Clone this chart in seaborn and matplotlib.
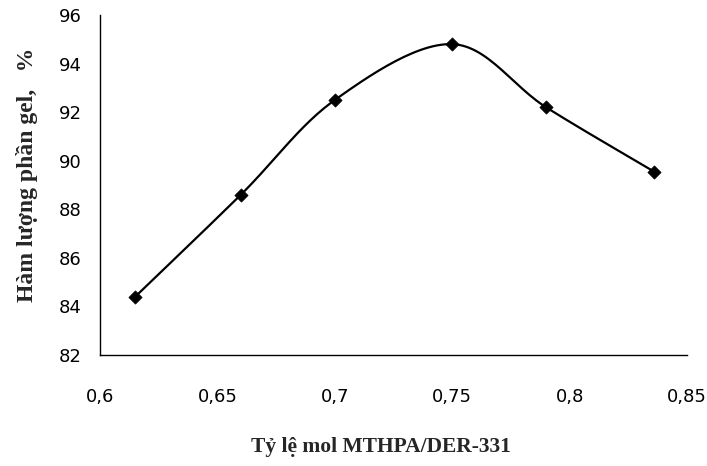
import numpy as np
import matplotlib
matplotlib.use('Agg')
import matplotlib.pyplot as plt
import seaborn as sns

# Data
ratio = [0.615, 0.66, 0.70, 0.75, 0.79, 0.836]
gel = [84.4, 88.6, 92.5, 94.8, 92.2, 89.55]
x_ticks = [0.6, 0.65, 0.7, 0.75, 0.8, 0.85]
y_ticks = [82, 84, 86, 88, 90, 92, 94, 96]


def smooth_path(xs, ys, n=30):
    # Excel-like smoothed line (Catmull-Rom through the data points)
    p = np.column_stack([xs, ys]).astype(float)
    p = np.vstack([p[0], p, p[-1]])
    out = []
    t = np.linspace(0, 1, n)[:, None]
    for i in range(1, len(p) - 2):
        p0, p1, p2, p3 = p[i - 1], p[i], p[i + 1], p[i + 2]
        seg = 0.5 * ((2 * p1) + (-p0 + p2) * t + (2 * p0 - 5 * p1 + 4 * p2 - p3) * t ** 2
                     + (-p0 + 3 * p1 - 3 * p2 + p3) * t ** 3)
        out.append(seg if i == 1 else seg[1:])
    s = np.vstack(out)
    return s[:, 0], s[:, 1]


sns.set_style("white")
plt.rcParams['font.family'] = ['Liberation Sans Narrow', 'DejaVu Sans Condensed', 'DejaVu Sans']

fig = plt.figure(figsize=(7.07, 4.66), dpi=100)
ax = fig.add_axes([0.1414, 0.2382, 0.8303, 0.7296])

sx, sy = smooth_path(ratio, gel)
sns.lineplot(x=sx, y=sy, ax=ax, color='black', linewidth=1.6, sort=False, estimator=None)
sns.scatterplot(x=ratio, y=gel, ax=ax, marker='D', s=45, color='black', edgecolor='black', zorder=3)

ax.set_xlim(0.6, 0.85)
ax.set_ylim(82, 96)
ax.set_xticks(x_ticks)
ax.set_yticks(y_ticks)
ax.set_xticklabels([f"{v:g}".replace('.', ',') for v in x_ticks])
ax.set_yticklabels([str(v) for v in y_ticks])
ax.tick_params(axis='both', direction='out', length=7, width=1, colors='black', labelsize=13)
ax.tick_params(axis='x', pad=17)
ax.tick_params(axis='y', pad=6)

for side in ['top', 'right']:
    ax.spines[side].set_visible(False)
for side in ['left', 'bottom']:
    ax.spines[side].set_color('black')
    ax.spines[side].set_linewidth(1)

serif = ['Liberation Serif', 'DejaVu Serif']
ax.set_xlabel("Tỷ lệ mol MTHPA/DER-331", fontsize=15.5, fontweight='bold', family=serif)
ax.set_ylabel("Hàm lượng phần gel,   %", fontsize=17, fontweight='bold', family=serif)
ax.xaxis.set_label_coords(0.479, -0.24)
ax.yaxis.set_label_coords(-0.105, 0.53)

fig.savefig("out.png", dpi=100)
